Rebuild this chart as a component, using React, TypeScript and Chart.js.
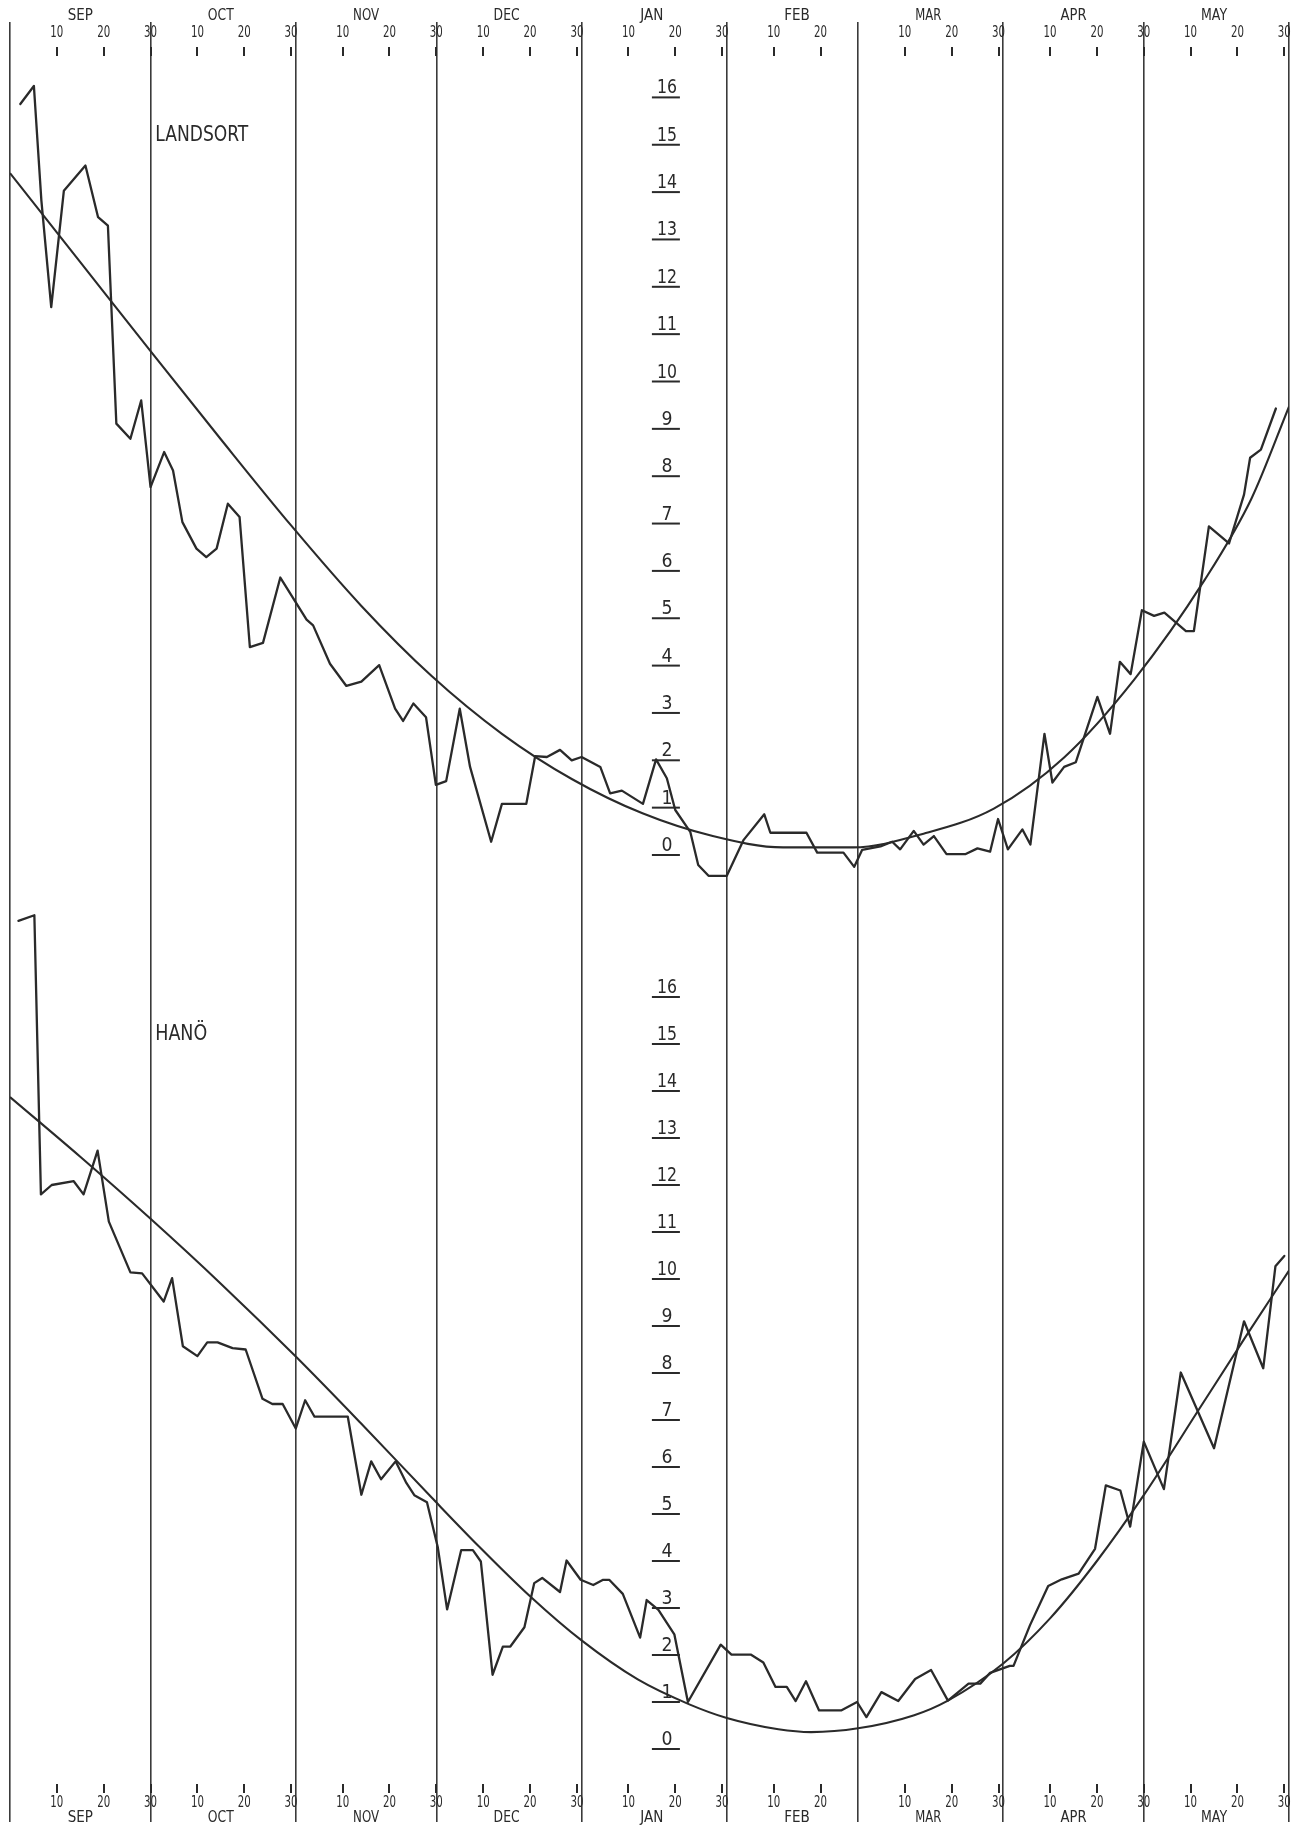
import { useEffect, useRef } from "react";
import { Chart, registerables } from "chart.js";

Chart.register(...registerables);

// Season axis: day index counted from the end of 31 August.
const MONTHS = ["SEP", "OCT", "NOV", "DEC", "JAN", "FEB", "MAR", "APR", "MAY"];
const MONTH_LENGTHS = [30, 31, 30, 31, 31, 28, 31, 30, 31];
const DAY_MARKS = [10, 20, 30];
const TEMP_TICKS = [0, 1, 2, 3, 4, 5, 6, 7, 8, 9, 10, 11, 12, 13, 14, 15, 16];

// Landsort: observed surface temperature (°C)
const LANDSORT_DAY = [
  2.2, 5.1, 6.7, 8.8, 11.5, 16.1, 18.8, 20.9, 22.7, 25.7, 28.0, 30.0, 32.9, 34.8, 36.8, 39.8,
  41.9, 44.1, 46.5, 49.0, 51.2, 54.0, 57.7, 63.3, 64.7, 68.3, 71.8, 75.0, 78.8, 82.2, 83.9, 86.1,
  88.8, 90.9, 93.1, 96.0, 98.2, 102.7, 105.0, 110.2, 112.1, 114.6, 117.4, 119.9, 122.0, 126.0,
  128.1, 130.6, 135.1, 137.9, 140.2, 142.0, 145.2, 146.9, 149.1, 153.0, 156.6, 161.0, 162.3,
  170.0, 172.3, 177.9, 180.2, 181.9, 185.8, 188.3, 190.0, 192.9, 195.0, 197.2, 199.9, 204.0,
  206.5, 209.2, 210.9, 213.0, 216.1, 217.8, 220.8, 222.5, 225.0, 227.5, 232.1, 234.8, 236.9,
  239.2, 241.6, 244.2, 246.4, 251.0, 252.7, 255.9, 260.2, 263.4, 264.7, 267.0, 270.2,
];
const LANDSORT_TEMP = [
  15.86, 16.24, 13.82, 11.57, 14.03, 14.56, 13.47, 13.29, 9.11, 8.79, 9.6, 7.77, 8.51, 8.12, 7.03,
  6.47, 6.29, 6.47, 7.42, 7.14, 4.39, 4.48, 5.86, 4.97, 4.85, 4.04, 3.57, 3.66, 4.01, 3.09, 2.83,
  3.2, 2.91, 1.48, 1.56, 3.09, 1.86, 0.28, 1.08, 1.08, 2.09, 2.07, 2.22, 2.0, 2.07, 1.86, 1.3,
  1.36, 1.08, 2.02, 1.62, 0.95, 0.49, -0.21, -0.44, -0.44, 0.32, 0.86, 0.47, 0.47, 0.05, 0.05,
  -0.25, 0.11, 0.18, 0.28, 0.12, 0.51, 0.22, 0.4, 0.02, 0.02, 0.14, 0.07, 0.76, 0.12, 0.54, 0.22,
  2.56, 1.53, 1.86, 1.96, 3.34, 2.56, 4.08, 3.82, 5.17, 5.05, 5.12, 4.73, 4.73, 6.94, 6.58, 7.61,
  8.39, 8.56, 9.43,
];

// Landsort: smoothed seasonal curve
const LANDSORT_TREND_DAY = [0, 15, 30, 45, 60, 75, 90, 105, 120, 135, 150, 165, 180, 195, 210, 225, 240, 255, 265, 273];
const LANDSORT_TREND_TEMP = [14.4, 12.52, 10.64, 8.78, 6.96, 5.26, 3.78, 2.56, 1.6, 0.88, 0.4, 0.16, 0.16, 0.45, 0.98, 2.06, 3.71, 5.81, 7.53, 9.47];

// Hanö: observed surface temperature (°C)
const HANO_DAY = [
  1.8, 5.2, 6.6, 8.9, 13.6, 15.7, 18.7, 21.1, 25.7, 28.2, 32.8, 34.6, 36.9, 40.0, 42.1, 44.3,
  47.5, 50.3, 53.9, 56.0, 58.2, 61.0, 63.0, 65.0, 72.1, 75.0, 77.1, 79.2, 82.3, 84.6, 86.3, 89.0,
  91.3, 93.3, 96.3, 98.8, 100.5, 103.0, 105.2, 106.8, 109.8, 111.9, 113.6, 117.4, 118.8, 121.8,
  124.5, 126.6, 127.9, 130.8, 134.5, 135.9, 138.4, 141.8, 144.7, 151.7, 154.0, 158.1, 160.8,
  163.4, 165.8, 167.7, 169.9, 172.7, 177.4, 180.8, 182.8, 186.0, 189.6, 193.2, 196.6, 200.2,
  204.6, 207.1, 209.2, 213.4, 214.2, 217.7, 221.6, 224.5, 228.1, 231.6, 233.9, 237.0, 239.1,
  242.0, 246.3, 249.9, 257.0, 263.4, 267.5, 270.1, 272.0,
];
const HANO_TEMP = [
  17.62, 17.74, 11.8, 12.0, 12.08, 11.8, 12.73, 11.22, 10.14, 10.12, 9.52, 10.02, 8.57, 8.36,
  8.65, 8.65, 8.53, 8.5, 7.45, 7.34, 7.34, 6.82, 7.42, 7.07, 7.07, 5.41, 6.12, 5.74, 6.12, 5.66,
  5.4, 5.25, 4.3, 2.97, 4.23, 4.23, 3.99, 1.58, 2.18, 2.18, 2.59, 3.53, 3.64, 3.34, 4.01, 3.6,
  3.49, 3.6, 3.6, 3.3, 2.37, 3.17, 2.96, 2.44, 1.0, 2.22, 2.01, 2.01, 1.84, 1.32, 1.32, 1.02,
  1.44, 0.82, 0.82, 1.0, 0.68, 1.21, 1.02, 1.49, 1.68, 1.03, 1.39, 1.39, 1.62, 1.77, 1.77, 2.63,
  3.47, 3.61, 3.73, 4.26, 5.61, 5.5, 4.73, 6.54, 5.53, 8.01, 6.4, 9.1, 8.1, 10.27, 10.49,
];

// Hanö: smoothed seasonal curve
const HANO_TREND_DAY = [0, 15, 30, 45, 61, 75, 90, 100, 111, 122, 134, 145, 153, 164, 171, 181, 193, 200, 212, 222, 232, 242, 254, 264, 273];
const HANO_TREND_TEMP = [13.87, 12.6, 11.28, 9.9, 8.35, 6.92, 5.35, 4.32, 3.25, 2.31, 1.48, 0.95, 0.66, 0.42, 0.36, 0.44, 0.72, 1.02, 1.82, 2.78, 4.0, 5.4, 7.26, 8.81, 10.18];

const STATIONS = ["LANDSORT", "HANÖ"];

// Sheet geometry
const WIDTH = 1294;
const HEIGHT = 1832;
const AREA_TOP = 22;
const AREA_BOTTOM = 1822;
const LANDSORT_ZERO_Y = 855;
const LANDSORT_UNIT = 47.35;
const HANO_ZERO_Y = 1749;
const HANO_UNIT = 47.0;
const LABEL_DAY = 140;
const NAME_DAY = 31;
const NAME_TEMP = 15.2;

const INK = "#2a2a2a";
const FONT = '"DejaVu Sans Condensed", "Liberation Sans Narrow", "DejaVu Sans", sans-serif';

const font = (size: number) => `${size}px ${FONT}`;

const monthStarts = (): number[] => {
  const starts: number[] = [];
  let acc = 0;
  for (const len of MONTH_LENGTHS) {
    starts.push(acc);
    acc += len;
  }
  return starts;
};

const monthEdges = (): number[] => {
  const edges = [0];
  let acc = 0;
  for (const len of MONTH_LENGTHS) {
    acc += len;
    edges.push(acc);
  }
  return edges;
};

const pairs = (xs: number[], ys: number[]) => xs.map((x, i) => ({ x, y: ys[i] }));

const sheetLabels = {
  id: "sheetLabels",
  beforeDatasetsDraw(chart: any) {
    const { ctx, scales } = chart;
    const x = scales.x;
    const yL = scales.yL;
    const yH = scales.yH;
    ctx.save();
    ctx.fillStyle = INK;

    // Month names, day numbers and small day ticks along top and bottom
    const starts = monthStarts();
    ctx.textAlign = "center";
    ctx.textBaseline = "middle";
    MONTHS.forEach((name, i) => {
      const s = starts[i];
      const mid = x.getPixelForValue(s + 15);
      ctx.font = font(15);
      ctx.fillText(name, mid, 16, 26);
      ctx.fillText(name, mid, 1818, 26);
      ctx.font = font(15);
      DAY_MARKS.forEach((d) => {
        if (d > MONTH_LENGTHS[i]) return;
        const px = x.getPixelForValue(s + d);
        ctx.fillText(String(d), px, 33, 13);
        ctx.fillRect(Math.round(px) - 1, 47, 2, 9);
        ctx.fillText(String(d), px, 1803, 13);
        ctx.fillRect(Math.round(px) - 1, 1784, 2, 9);
      });
    });

    // Temperature scale printed in the middle of each panel
    const lx = x.getPixelForValue(LABEL_DAY);
    ctx.font = font(20);
    ctx.textBaseline = "alphabetic";
    [yL, yH].forEach((scale: any) => {
      TEMP_TICKS.forEach((t) => {
        const py = scale.getPixelForValue(t);
        ctx.fillRect(lx - 14, py - 1, 28, 2);
        ctx.fillText(String(t), lx + 1, py - 4, t >= 10 ? 20 : 11);
      });
    });

    // Station names
    ctx.textAlign = "left";
    ctx.textBaseline = "middle";
    ctx.font = font(22);
    const nx = x.getPixelForValue(NAME_DAY);
    ctx.fillText(STATIONS[0], nx, yL.getPixelForValue(NAME_TEMP), 93);
    ctx.fillText(STATIONS[1], nx, yH.getPixelForValue(NAME_TEMP), 52);
    ctx.restore();
  },
};

const observed = (label: string, data: any[], axis: string) => ({
  label,
  data,
  yAxisID: axis,
  borderColor: INK,
  borderWidth: 2.3,
  pointRadius: 0,
  tension: 0,
  borderJoinStyle: "round" as const,
  borderCapStyle: "round" as const,
});

const trend = (label: string, data: any[], axis: string) => ({
  label,
  data,
  yAxisID: axis,
  borderColor: INK,
  borderWidth: 2.1,
  pointRadius: 0,
  cubicInterpolationMode: "monotone" as const,
});

export default function App() {
  const canvasRef = useRef<HTMLCanvasElement | null>(null);

  useEffect(() => {
    document.body.style.margin = "0";
    document.body.style.background = "#ffffff";
    const canvas = canvasRef.current;
    if (!canvas) return;

    const edges = monthEdges();
    const chart = new Chart(canvas, {
      type: "line",
      data: {
        datasets: [
          observed("Landsort", pairs(LANDSORT_DAY, LANDSORT_TEMP), "yL"),
          trend("Landsort curve", pairs(LANDSORT_TREND_DAY, LANDSORT_TREND_TEMP), "yL"),
          observed("Hanö", pairs(HANO_DAY, HANO_TEMP), "yH"),
          trend("Hanö curve", pairs(HANO_TREND_DAY, HANO_TREND_TEMP), "yH"),
        ],
      },
      options: {
        responsive: false,
        devicePixelRatio: 1,
        animation: false,
        events: [],
        layout: {
          padding: { left: 10, right: 5, top: AREA_TOP, bottom: HEIGHT - AREA_BOTTOM },
        },
        plugins: {
          legend: { display: false },
          tooltip: { enabled: false },
        },
        scales: {
          x: {
            type: "linear",
            min: 0,
            max: edges[edges.length - 1],
            afterBuildTicks: (scale: any) => {
              scale.ticks = edges.map((v) => ({ value: v }));
            },
            ticks: { display: false },
            grid: { color: "#3a3a3a", lineWidth: 1.6, drawTicks: false },
            border: { display: false },
          },
          yL: {
            type: "linear",
            position: "left",
            display: false,
            min: (LANDSORT_ZERO_Y - AREA_BOTTOM) / LANDSORT_UNIT,
            max: (LANDSORT_ZERO_Y - AREA_TOP) / LANDSORT_UNIT,
          },
          yH: {
            type: "linear",
            position: "right",
            display: false,
            min: (HANO_ZERO_Y - AREA_BOTTOM) / HANO_UNIT,
            max: (HANO_ZERO_Y - AREA_TOP) / HANO_UNIT,
          },
        },
      },
      plugins: [sheetLabels],
    });

    return () => chart.destroy();
  }, []);

  return (
    <div style={{ width: WIDTH, height: HEIGHT, background: "#ffffff" }}>
      <canvas ref={canvasRef} width={WIDTH} height={HEIGHT} style={{ display: "block" }} />
    </div>
  );
}
